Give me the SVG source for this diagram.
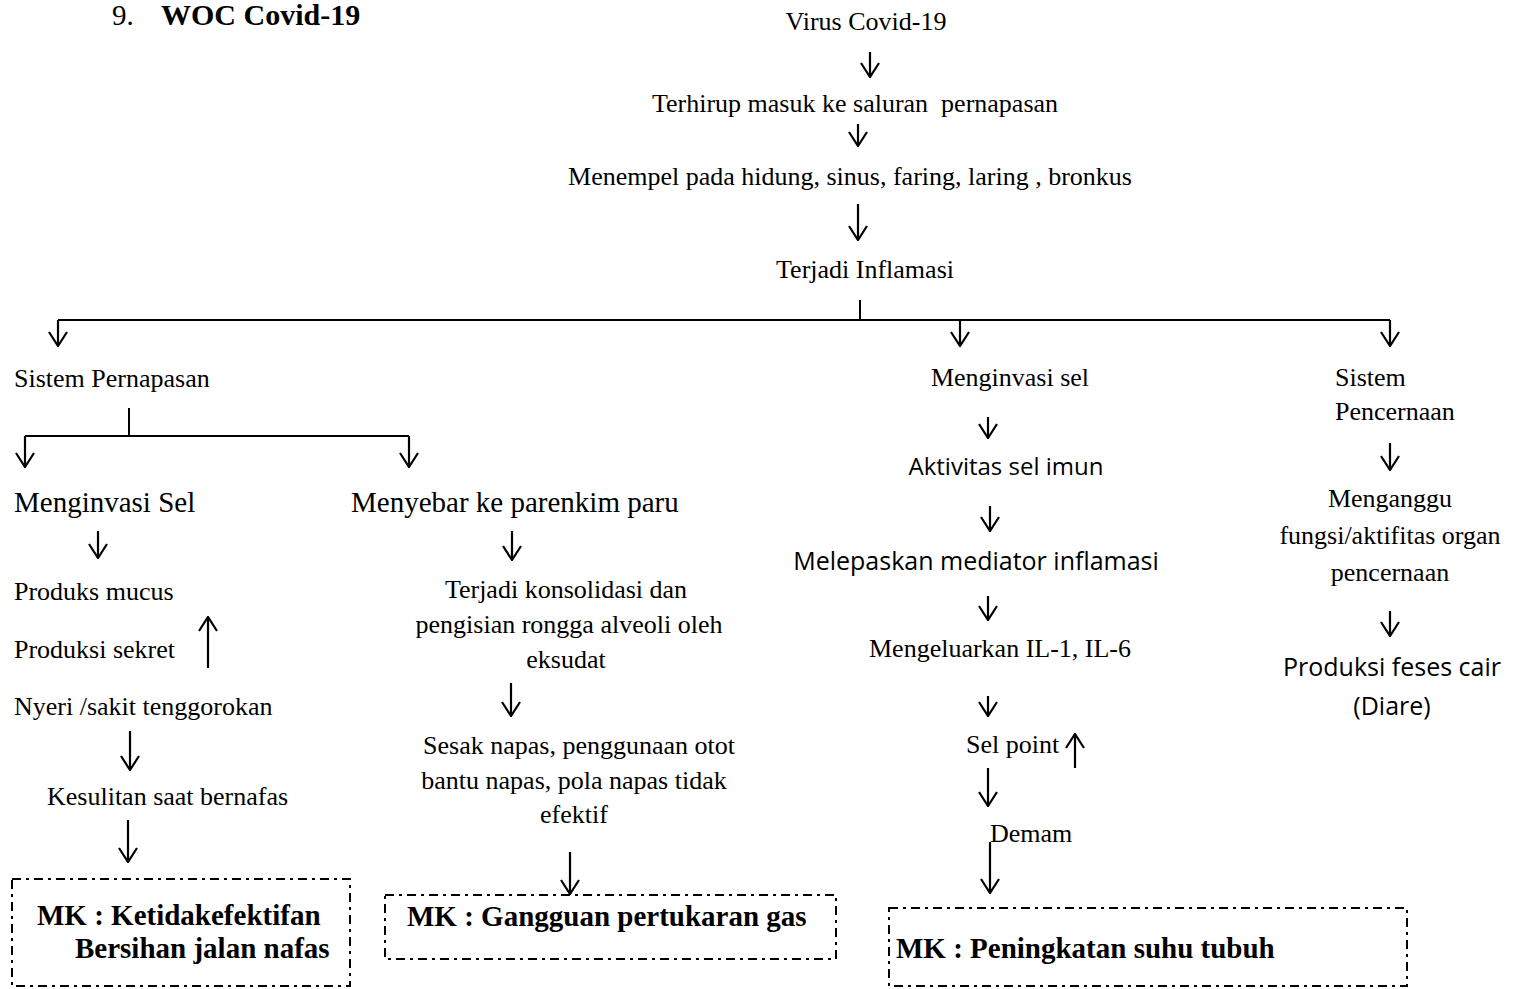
<svg xmlns="http://www.w3.org/2000/svg" width="1514" height="989" viewBox="0 0 1514 989">
<defs>
<style>
.t{font-family:"Liberation Serif","Times New Roman",serif;font-size:26px;fill:#000}
.l{font-size:29px}
.b{font-family:"Liberation Serif","Times New Roman",serif;font-weight:bold;font-size:29px;fill:#000}
.s{font-family:"Open Sans","Noto Sans",sans-serif;font-size:24px;fill:#000}
.c{text-anchor:middle}
.ln{stroke:#000;stroke-width:2;fill:none}
.a{stroke:#000;stroke-width:2.2;fill:none;marker-end:url(#v)}
.box{stroke:#000;stroke-width:2;fill:none;stroke-dasharray:9 5 3 5}
</style>
<marker id="v" viewBox="0 0 16 20" refX="15" refY="10" markerWidth="16" markerHeight="20" markerUnits="userSpaceOnUse" orient="auto">
<path d="M1,1 L15,10 L1,19" stroke="#000" stroke-width="2.2" fill="none"/>
</marker>
</defs>
<rect width="1514" height="989" fill="#fff"/>

<g id="title">
<text class="t" x="112" y="25" style="font-size:29px">9.</text>
<text class="b" x="161" y="25" style="font-size:30px">WOC Covid-19</text>
</g>

<g id="connectors">
<path class="a" d="M870 52 V77"/>
<path class="a" d="M858 124 V146"/>
<path class="a" d="M858 204 V240"/>
<path class="ln" d="M860 300 V320 M58 320 H1390"/>
<path class="a" d="M58 320 V346"/>
<path class="a" d="M960 320 V346"/>
<path class="a" d="M1390 320 V346"/>
<path class="ln" d="M129 408 V436 M25 436 H409"/>
<path class="a" d="M25 436 V467"/>
<path class="a" d="M409 436 V467"/>
<path class="a" d="M98 531 V558"/>
<path class="a" d="M512 531 V560"/>
<path class="a" d="M208 668 V617"/>
<path class="a" d="M130 731 V770"/>
<path class="a" d="M128 820 V862"/>
<path class="a" d="M511 683 V716"/>
<path class="a" d="M570 852 V894"/>
<path class="a" d="M988 417 V438"/>
<path class="a" d="M990 506 V531"/>
<path class="a" d="M988 596 V620"/>
<path class="a" d="M988 696 V716"/>
<path class="a" d="M1075 768 V734"/>
<path class="a" d="M988 768 V806"/>
<path class="a" d="M990 842 V893"/>
<path class="a" d="M1390 443 V470"/>
<path class="a" d="M1390 611 V636"/>
</g>

<g id="n-virus"><text class="t c" x="866" y="30">Virus Covid-19</text></g>
<g id="n-terhirup"><text class="t c" x="855" y="112" xml:space="preserve">Terhirup masuk ke saluran  pernapasan</text></g>
<g id="n-menempel"><text class="t c" x="850" y="185">Menempel pada hidung, sinus, faring, laring , bronkus</text></g>
<g id="n-inflamasi"><text class="t c" x="865" y="278">Terjadi Inflamasi</text></g>

<g id="n-sistem-pernapasan"><text class="t" x="14" y="387">Sistem Pernapasan</text></g>
<g id="n-menginvasi-sel-l"><text class="t l" x="14" y="512">Menginvasi Sel</text></g>
<g id="n-menyebar"><text class="t l" x="351" y="512">Menyebar ke parenkim paru</text></g>
<g id="n-produks-mucus"><text class="t" x="14" y="600">Produks mucus</text></g>
<g id="n-produksi-sekret"><text class="t" x="14" y="658">Produksi sekret</text></g>
<g id="n-nyeri"><text class="t" x="14" y="715">Nyeri /sakit tenggorokan</text></g>
<g id="n-kesulitan"><text class="t" x="47" y="805">Kesulitan saat bernafas</text></g>
<g id="n-mk1">
<rect class="box" x="12" y="879" width="338" height="107"/>
<text class="b" x="37" y="925">MK : Ketidakefektifan</text>
<text class="b" x="75" y="958">Bersihan jalan nafas</text>
</g>

<g id="n-konsolidasi">
<text class="t c" x="566" y="598">Terjadi konsolidasi dan</text>
<text class="t c" x="569" y="633">pengisian rongga alveoli oleh</text>
<text class="t c" x="566" y="668">eksudat</text>
</g>
<g id="n-sesak">
<text class="t c" x="579" y="754">Sesak napas, penggunaan otot</text>
<text class="t c" x="574" y="789">bantu napas, pola napas tidak</text>
<text class="t c" x="574" y="823">efektif</text>
</g>
<g id="n-mk2">
<rect class="box" x="385" y="895" width="451" height="64"/>
<text class="b" x="407" y="926">MK : Gangguan pertukaran gas</text>
</g>

<g id="n-menginvasi-sel-m"><text class="t c" x="1010" y="386">Menginvasi sel</text></g>
<g id="n-aktivitas"><text class="s c" x="1006" y="475">Aktivitas sel imun</text></g>
<g id="n-melepaskan"><text class="s c" x="976" y="570" style="font-size:25px">Melepaskan mediator inflamasi</text></g>
<g id="n-il"><text class="t c" x="1000" y="657">Mengeluarkan IL-1, IL-6</text></g>
<g id="n-sel-point"><text class="t" x="966" y="753">Sel point</text></g>
<g id="n-demam"><text class="t" x="990" y="842">Demam</text></g>
<g id="n-mk3">
<rect class="box" x="889" y="908" width="518" height="78"/>
<text class="b" x="896" y="958">MK : Peningkatan suhu tubuh</text>
</g>

<g id="n-sistem-pencernaan">
<text class="t" x="1335" y="386">Sistem</text>
<text class="t" x="1335" y="420">Pencernaan</text>
</g>
<g id="n-menganggu">
<text class="t c" x="1390" y="507">Menganggu</text>
<text class="t c" x="1390" y="544">fungsi/aktifitas organ</text>
<text class="t c" x="1390" y="581">pencernaan</text>
</g>
<g id="n-diare">
<text class="s c" x="1392" y="676" style="font-size:25px">Produksi feses cair</text>
<text class="s c" x="1392" y="715" style="font-size:25px">(Diare)</text>
</g>
</svg>
